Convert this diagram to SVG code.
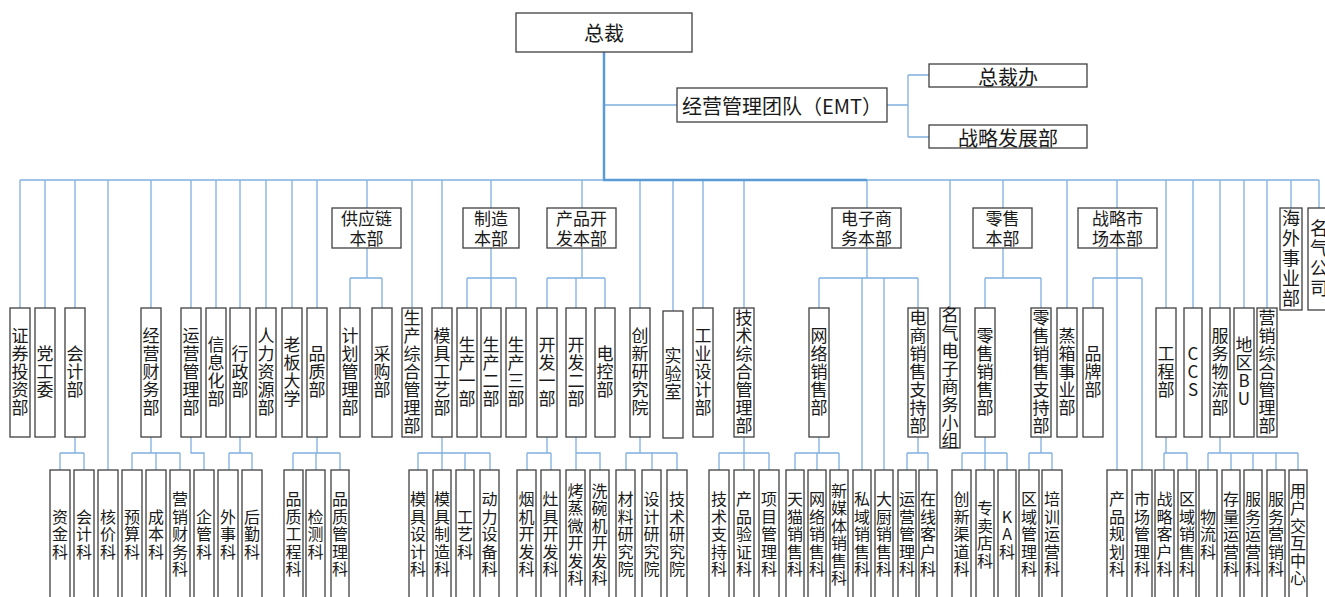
<svg xmlns="http://www.w3.org/2000/svg" width="1325" height="597" viewBox="0 0 1325 597">
<style>
.b{fill:#fff;stroke:#404040;stroke-width:1.3}
text{font-family:"Noto Sans CJK SC","Noto Sans",sans-serif;fill:#1a1a1a}
.h{font-size:20px;text-anchor:middle;dominant-baseline:central}
.m{font-size:17px;text-anchor:middle}
.v2{font-size:17px;writing-mode:vertical-rl;text-orientation:upright;text-anchor:middle;letter-spacing:1px}
.v3{font-size:16px;writing-mode:vertical-rl;text-orientation:upright;text-anchor:middle;letter-spacing:1.5px}
.v1{font-size:18px;writing-mode:vertical-rl;text-orientation:upright;text-anchor:middle;letter-spacing:2px}
.c{fill:none;stroke:#80b0e0;stroke-width:1.3}
.k{fill:none;stroke:#5b9bd5;stroke-width:2.5}
</style>
<g id="connectors">
<path class="c" d="M604 105H677M887 105H908M908 75V137M908 75H929M908 137H929"/>
<path class="c" d="M20 180H1319"/>
<path class="c" d="M20 180V308M45 180V308M75 180V308M151 180V308M191 180V308M216 180V308M240 180V308M266 180V308M292 180V308M317 180V308M412 180V308M442 180V308M640 180V308M673 180V311M703 180V308M744 180V308M950 180V308M1067 180V308M1166 180V308M1193 180V308M1220 180V308M1244 180V308M1267 180V308M108 180V470"/>
<path class="c" d="M367 180V208M491 180V208M582 180V208M867 180V208M1003 180V208M1117 180V208M1291 180V208M1319 180V208"/>
<path class="c" d="M367 248V278M350 278H382M350 278V308M382 278V308M491 248V308M467 278H516M467 278V308M516 278V308M582 248V278M547 278H605M547 278V308M576 278V308M605 278V308M867 248V278M819 278H918M819 278V308M862 278V470M884 278V470M918 278V308M1003 248V278M985 278H1041M985 278V308M1041 278V308M1117 248V470M1093 278H1142M1093 278V308M1142 278V470"/>
<path class="c" d="M75 437V453M60 453H84M60 453V470M84 453V470M151 437V453M132 453H180M132 453V470M156 453V470M180 453V470M191 437V453H204V470M240 437V453M229 453H252M229 453V470M252 453V470M317 437V453M293 453H340M293 453V470M316 453V470M340 453V470M442 437V470M418 453H490M418 453V470M465 453V470M490 453V470M547 437V453M527 453H551M527 453V470M551 453V470M576 437V470M576 453H600V470M640 437V453M626 453H677M626 453V470M652 453V470M677 453V470M744 437V470M719 453H769M719 453V470M769 453V470M819 437V453M795 453H839M795 453V470M817 453V470M839 453V470M918 437V453M907 453H928M907 453V470M928 453V470M985 437V470M962 453H1007M962 453V470M1007 453V470M1041 437V453M1029 453H1052M1029 453V470M1052 453V470M1166 437V453M1164 453H1187M1164 453V470M1187 453V470M1220 437V453M1208 453H1298M1208 453V470M1231 453V470M1253 453V470M1276 453V470M1298 453V470"/>
<path class="k" d="M604 52V180M603 180H867"/>
</g>
<g id="n-zongcai"><rect class="b" x="516" y="13" width="176" height="39"/><text class="h" x="604" y="32">总裁</text></g>
<g id="n-emt"><rect class="b" x="677" y="88" width="210" height="34"/><text class="h" x="782" y="105">经营管理团队（EMT）</text></g>
<g id="n-zcb"><rect class="b" x="929" y="64" width="158" height="23"/><text class="h" x="1008" y="76">总裁办</text></g>
<g id="n-zlfzb"><rect class="b" x="929" y="125" width="158" height="23"/><text class="h" x="1008" y="137">战略发展部</text></g>

<g id="n-gyl"><rect class="b" x="332" y="208" width="69" height="40"/><text class="m" x="366.5" y="225">供应链<tspan x="366.5" dy="20">本部</tspan></text></g>
<g id="n-zz"><rect class="b" x="463" y="208" width="56" height="40"/><text class="m" x="491" y="225">制造<tspan x="491" dy="20">本部</tspan></text></g>
<g id="n-cpkf"><rect class="b" x="547" y="208" width="69" height="40"/><text class="m" x="581.5" y="225">产品开<tspan x="581.5" dy="20">发本部</tspan></text></g>
<g id="n-dzsw"><rect class="b" x="832" y="208" width="69" height="40"/><text class="m" x="866.5" y="225">电子商<tspan x="866.5" dy="20">务本部</tspan></text></g>
<g id="n-ls"><rect class="b" x="973" y="208" width="59" height="40"/><text class="m" x="1002.5" y="225">零售<tspan x="1002.5" dy="20">本部</tspan></text></g>
<g id="n-zlsc"><rect class="b" x="1078" y="208" width="79" height="40"/><text class="m" x="1117.5" y="225">战略市<tspan x="1117.5" dy="20">场本部</tspan></text></g>
<g id="n-hwsyb"><rect class="b" x="1280" y="208" width="22" height="102"/><text class="v1" x="1291" y="259">海外事业部</text></g>
<g id="n-mqgs"><rect class="b" x="1308" y="208" width="24" height="102"/><text class="v1" x="1319" y="259">名气公司</text></g>

<g id="n-zqtzb"><rect class="b" x="10" y="308" width="20" height="129"/><text class="v2" x="20" y="372.5">证券投资部</text></g>
<g id="n-dgw"><rect class="b" x="35" y="308" width="20" height="129"/><text class="v2" x="45" y="372.5">党工委</text></g>
<g id="n-kjb"><rect class="b" x="65" y="308" width="20" height="129"/><text class="v2" x="75" y="372.5">会计部</text></g>
<g id="n-jycwb"><rect class="b" x="141" y="308" width="20" height="129"/><text class="v2" x="151" y="372.5">经营财务部</text></g>
<g id="n-yyglb"><rect class="b" x="181" y="308" width="20" height="129"/><text class="v2" x="191" y="372.5">运营管理部</text></g>
<g id="n-xxhb"><rect class="b" x="206" y="308" width="20" height="129"/><text class="v2" x="216" y="372.5">信息化部</text></g>
<g id="n-xzb"><rect class="b" x="230" y="308" width="20" height="129"/><text class="v2" x="240" y="372.5">行政部</text></g>
<g id="n-rlzyb"><rect class="b" x="256" y="308" width="20" height="129"/><text class="v2" x="266" y="372.5">人力资源部</text></g>
<g id="n-lbdx"><rect class="b" x="282" y="308" width="20" height="129"/><text class="v2" x="292" y="372.5">老板大学</text></g>
<g id="n-pzb"><rect class="b" x="307" y="308" width="20" height="129"/><text class="v2" x="317" y="372.5">品质部</text></g>
<g id="n-jhglb"><rect class="b" x="340" y="308" width="20" height="129"/><text class="v2" x="350" y="372.5">计划管理部</text></g>
<g id="n-cgb"><rect class="b" x="372" y="308" width="20" height="129"/><text class="v2" x="382" y="372.5">采购部</text></g>
<g id="n-sczhglb"><rect class="b" x="402" y="308" width="20" height="129"/><text class="v2" x="412" y="372.5">生产综合管理部</text></g>
<g id="n-mjgyb"><rect class="b" x="432" y="308" width="20" height="129"/><text class="v2" x="442" y="372.5">模具工艺部</text></g>
<g id="n-sc1"><rect class="b" x="457" y="308" width="20" height="129"/><text class="v2" x="467" y="372.5">生产一部</text></g>
<g id="n-sc2"><rect class="b" x="481" y="308" width="20" height="129"/><text class="v2" x="491" y="372.5">生产二部</text></g>
<g id="n-sc3"><rect class="b" x="506" y="308" width="20" height="129"/><text class="v2" x="516" y="372.5">生产三部</text></g>
<g id="n-kf1"><rect class="b" x="537" y="308" width="20" height="129"/><text class="v2" x="547" y="372.5">开发一部</text></g>
<g id="n-kf2"><rect class="b" x="566" y="308" width="20" height="129"/><text class="v2" x="576" y="372.5">开发二部</text></g>
<g id="n-dkb"><rect class="b" x="595" y="308" width="20" height="129"/><text class="v2" x="605" y="372.5">电控部</text></g>
<g id="n-cxyjy"><rect class="b" x="630" y="308" width="20" height="129"/><text class="v2" x="640" y="372.5">创新研究院</text></g>
<g id="n-sys"><rect class="b" x="663" y="311" width="20" height="127"/><text class="v2" x="673" y="374">实验室</text></g>
<g id="n-gysjb"><rect class="b" x="693" y="308" width="20" height="129"/><text class="v2" x="703" y="372.5">工业设计部</text></g>
<g id="n-jszhglb"><rect class="b" x="734" y="308" width="20" height="129"/><text class="v2" x="744" y="372.5">技术综合管理部</text></g>
<g id="n-wlxsb"><rect class="b" x="809" y="308" width="20" height="129"/><text class="v2" x="819" y="372.5">网络销售部</text></g>
<g id="n-dsxszcb"><rect class="b" x="908" y="308" width="20" height="129"/><text class="v2" x="918" y="372.5">电商销售支持部</text></g>
<g id="n-mqdzsw"><rect class="b" x="940" y="308" width="20" height="140"/><text class="v2" x="950" y="378">名气电子商务小组</text></g>
<g id="n-lsxsb"><rect class="b" x="975" y="308" width="20" height="129"/><text class="v2" x="985" y="372.5">零售销售部</text></g>
<g id="n-lsxszcb"><rect class="b" x="1031" y="308" width="20" height="129"/><text class="v2" x="1041" y="372.5">零售销售支持部</text></g>
<g id="n-zxsyb"><rect class="b" x="1057" y="308" width="20" height="129"/><text class="v2" x="1067" y="372.5">蒸箱事业部</text></g>
<g id="n-ppb"><rect class="b" x="1083" y="308" width="20" height="129"/><text class="v2" x="1093" y="372.5">品牌部</text></g>
<g id="n-gcb"><rect class="b" x="1156" y="308" width="20" height="129"/><text class="v2" x="1166" y="372.5">工程部</text></g>
<g id="n-ccs"><rect class="b" x="1184" y="308" width="18" height="129"/><text class="v2" x="1193" y="372.5">CCS</text></g>
<g id="n-fwwlb"><rect class="b" x="1210" y="308" width="20" height="129"/><text class="v2" x="1220" y="372.5">服务物流部</text></g>
<g id="n-dqbu"><rect class="b" x="1234" y="308" width="20" height="129"/><text class="v2" x="1244" y="372.5">地区BU</text></g>
<g id="n-yxzhglb"><rect class="b" x="1257" y="308" width="20" height="129"/><text class="v2" x="1267" y="372.5">营销综合管理部</text></g>

<g id="n-zjk"><rect class="b" x="50" y="470" width="20" height="130"/><text class="v3" x="60" y="535">资金科</text></g>
<g id="n-kjk"><rect class="b" x="74" y="470" width="20" height="130"/><text class="v3" x="84" y="535">会计科</text></g>
<g id="n-hjk"><rect class="b" x="98" y="470" width="20" height="130"/><text class="v3" x="108" y="535">核价科</text></g>
<g id="n-ysk"><rect class="b" x="122" y="470" width="20" height="130"/><text class="v3" x="132" y="535">预算科</text></g>
<g id="n-cbk"><rect class="b" x="146" y="470" width="20" height="130"/><text class="v3" x="156" y="535">成本科</text></g>
<g id="n-yxcwk"><rect class="b" x="170" y="470" width="20" height="130"/><text class="v3" x="180" y="535">营销财务科</text></g>
<g id="n-qgk"><rect class="b" x="194" y="470" width="20" height="130"/><text class="v3" x="204" y="535">企管科</text></g>
<g id="n-wsk"><rect class="b" x="218" y="470" width="20" height="130"/><text class="v3" x="228" y="535">外事科</text></g>
<g id="n-hqk"><rect class="b" x="242" y="470" width="20" height="130"/><text class="v3" x="252" y="535">后勤科</text></g>
<g id="n-pzgck"><rect class="b" x="284" y="470" width="19" height="130"/><text class="v3" x="293.5" y="535">品质工程科</text></g>
<g id="n-jck"><rect class="b" x="306" y="470" width="19" height="130"/><text class="v3" x="315.5" y="535">检测科</text></g>
<g id="n-pzglk"><rect class="b" x="331" y="470" width="18" height="130"/><text class="v3" x="340" y="535">品质管理科</text></g>
<g id="n-mjsjk"><rect class="b" x="409" y="470" width="18" height="130"/><text class="v3" x="418" y="535">模具设计科</text></g>
<g id="n-mjzzk"><rect class="b" x="433" y="470" width="18" height="130"/><text class="v3" x="442" y="535">模具制造科</text></g>
<g id="n-gyk"><rect class="b" x="456" y="470" width="18" height="130"/><text class="v3" x="465" y="535">工艺科</text></g>
<g id="n-dlsbk"><rect class="b" x="480" y="470" width="19" height="130"/><text class="v3" x="489.5" y="535">动力设备科</text></g>
<g id="n-yjkfk"><rect class="b" x="517" y="470" width="19" height="130"/><text class="v3" x="526.5" y="535">烟机开发科</text></g>
<g id="n-zjkfk"><rect class="b" x="541" y="470" width="19" height="130"/><text class="v3" x="550.5" y="535">灶具开发科</text></g>
<g id="n-kzwkfk"><rect class="b" x="566" y="470" width="19" height="130"/><text class="v3" x="575.5" y="535">烤蒸微开发科</text></g>
<g id="n-xwjkfk"><rect class="b" x="590" y="470" width="19" height="130"/><text class="v3" x="599.5" y="535">洗碗机开发科</text></g>
<g id="n-clyjy"><rect class="b" x="616" y="470" width="19" height="130"/><text class="v3" x="625.5" y="535">材料研究院</text></g>
<g id="n-sjyjy"><rect class="b" x="642" y="470" width="19" height="130"/><text class="v3" x="651.5" y="535">设计研究院</text></g>
<g id="n-jsyjy"><rect class="b" x="667" y="470" width="20" height="130"/><text class="v3" x="677" y="535">技术研究院</text></g>
<g id="n-jszck"><rect class="b" x="709" y="470" width="20" height="130"/><text class="v3" x="719" y="535">技术支持科</text></g>
<g id="n-cpyzk"><rect class="b" x="734" y="470" width="20" height="130"/><text class="v3" x="744" y="535">产品验证科</text></g>
<g id="n-xmglk"><rect class="b" x="759" y="470" width="20" height="130"/><text class="v3" x="769" y="535">项目管理科</text></g>
<g id="n-tmxsk"><rect class="b" x="786" y="470" width="18" height="130"/><text class="v3" x="795" y="535">天猫销售科</text></g>
<g id="n-wlxsk"><rect class="b" x="808" y="470" width="18" height="130"/><text class="v3" x="817" y="535">网络销售科</text></g>
<g id="n-xmtxsk"><rect class="b" x="830" y="470" width="18" height="130"/><text class="v3" x="839" y="535">新媒体销售科</text></g>
<g id="n-syxsk"><rect class="b" x="853" y="470" width="18" height="130"/><text class="v3" x="862" y="535">私域销售科</text></g>
<g id="n-dcxsk"><rect class="b" x="875" y="470" width="18" height="130"/><text class="v3" x="884" y="535">大厨销售科</text></g>
<g id="n-yyglk"><rect class="b" x="898" y="470" width="18" height="130"/><text class="v3" x="907" y="535">运营管理科</text></g>
<g id="n-zxkhk"><rect class="b" x="919" y="470" width="18" height="130"/><text class="v3" x="928" y="535">在线客户科</text></g>
<g id="n-cxqdk"><rect class="b" x="952" y="470" width="19" height="130"/><text class="v3" x="961.5" y="535">创新渠道科</text></g>
<g id="n-zmdk"><rect class="b" x="976" y="470" width="18" height="130"/><text class="v3" x="985" y="535">专卖店科</text></g>
<g id="n-kak"><rect class="b" x="998" y="470" width="18" height="130"/><text class="v3" x="1007" y="535">KA科</text></g>
<g id="n-qyglk"><rect class="b" x="1019" y="470" width="20" height="130"/><text class="v3" x="1029" y="535">区域管理科</text></g>
<g id="n-pxyyk"><rect class="b" x="1042" y="470" width="20" height="130"/><text class="v3" x="1052" y="535">培训运营科</text></g>
<g id="n-cpghk"><rect class="b" x="1107" y="470" width="20" height="130"/><text class="v3" x="1117" y="535">产品规划科</text></g>
<g id="n-scglk"><rect class="b" x="1132" y="470" width="20" height="130"/><text class="v3" x="1142" y="535">市场管理科</text></g>
<g id="n-zlkhk"><rect class="b" x="1155" y="470" width="19" height="130"/><text class="v3" x="1164.5" y="535">战略客户科</text></g>
<g id="n-qyxsk"><rect class="b" x="1178" y="470" width="18" height="130"/><text class="v3" x="1187" y="535">区域销售科</text></g>
<g id="n-wlk"><rect class="b" x="1199" y="470" width="18" height="130"/><text class="v3" x="1208" y="535">物流科</text></g>
<g id="n-clyyk"><rect class="b" x="1222" y="470" width="18" height="130"/><text class="v3" x="1231" y="535">存量运营科</text></g>
<g id="n-fwyyk"><rect class="b" x="1244" y="470" width="18" height="130"/><text class="v3" x="1253" y="535">服务运营科</text></g>
<g id="n-fwyxk"><rect class="b" x="1267" y="470" width="18" height="130"/><text class="v3" x="1276" y="535">服务营销科</text></g>
<g id="n-yhjhzx"><rect class="b" x="1289" y="470" width="18" height="130"/><text class="v3" x="1298" y="535">用户交互中心</text></g>
</svg>
